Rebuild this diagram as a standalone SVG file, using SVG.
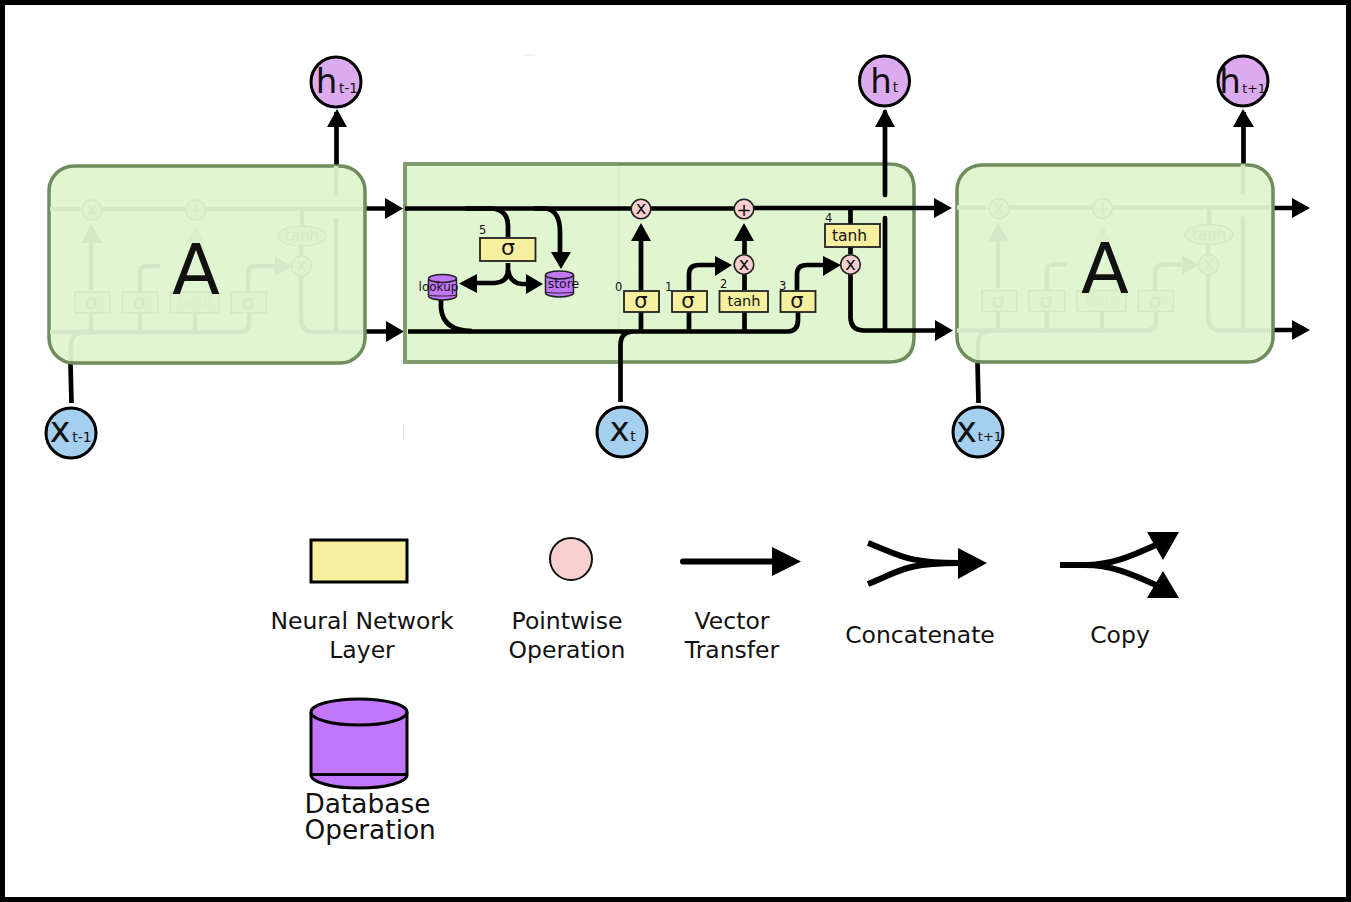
<svg xmlns="http://www.w3.org/2000/svg" width="1351" height="902" viewBox="0 0 1351 902">
<style>
text{font-family:"DejaVu Sans",sans-serif;fill:#111}
.box{fill:#e0f6d0;stroke:#6f8c5c;stroke-width:3.5}
.edge{fill:none;stroke:#7f9a6d;stroke-width:3.5}
.w{fill:none;stroke:#000;stroke-width:4.7}
.g{fill:none;stroke:#d3e8c6;stroke-width:4.5}
.gs{fill:#ddf3cd;stroke:#d3e8c6;stroke-width:1.5}
.gf{fill:#d3e8c6;stroke:none}
.gt{fill:#d4e9c8;text-anchor:middle}
.lay{fill:#f6ef9e;stroke:#222;stroke-width:1.8}
.op{fill:#f9cfcf;stroke:#222;stroke-width:1.6}
.db{fill:#c276fc;stroke:#222;stroke-width:1.5}
.h{fill:#dcaaee;stroke:#000;stroke-width:3}
.x{fill:#a5cfee;stroke:#000;stroke-width:3}
.c{text-anchor:middle}
.leg{font-size:23.500px;text-anchor:middle}
.num{font-size:11.500px}
</style>
<defs>
<g id="ghost">
<path class="g" d="M50 209H80M102 209H185M206 209H363M91 290V238M140 292V270Q140 266 148 266H160M301 245V256M301 276V318Q301 332 315 332H363M336 166V196M336 218V332M50 332H240Q249 332 249 322V313M248 292V274Q248 266 258 266H278M91 313V332M140 313V332M195 313V332M302 209V226"/>
<path class="gf" d="M81 243L91 224L102 243ZM275 257L292 266L275 276Z"/>
<path d="M186 243L195.500 226L205 243Z" fill="#daf0ca"/>
<circle class="gs" cx="92" cy="210" r="10"/><circle class="gs" cx="195.500" cy="210" r="10"/><circle class="gs" cx="301.500" cy="266" r="10"/>
<ellipse class="gs" cx="302" cy="236" rx="24" ry="10"/>
<rect class="gs" x="75" y="292" width="35" height="21"/><rect class="gs" x="122" y="292" width="36" height="21"/><rect class="gs" x="170" y="292" width="49" height="21"/><rect class="gs" x="231" y="292" width="35.500" height="21"/>
<text class="gt" x="92" y="215" font-size="17">x</text><text class="gt" x="195.500" y="216" font-size="17">+</text><text class="gt" x="301.500" y="271" font-size="17">x</text><text class="gt" x="302" y="241" font-size="15">tanh</text>
<text x="195" y="307" font-size="15" text-anchor="middle" style="fill:#d9efca">tanh</text>
<text class="gt" x="91" y="309" font-size="20">σ</text><text class="gt" x="139" y="309" font-size="20">σ</text><text class="gt" x="248" y="309" font-size="20">σ</text>
</g>
</defs>
<rect x="2.500" y="2.500" width="1346" height="897" fill="#fff" stroke="#000" stroke-width="5"/>
<path d="M403.500 424V438M523 55H535" stroke="#e6e6e6" stroke-width="1" fill="none"/>

<g id="connectors-outer">
<path class="w" d="M336.500 166V112M1243.500 166V112"/>
<path d="M327 127L337 109L347 127ZM1233 127L1243 109L1254 127Z"/>
<path class="w" d="M70.500 364L71.500 403M977.500 362L978.500 403"/>
<path class="w" d="M365 208.500H388M365 331.500H388M1273 208H1294M1273 330H1294"/>
<path d="M385 198L403 208.500L385 219ZM386 321L404 331.500L386 342ZM1292 198L1310 208L1292 218ZM1292 320L1310 330L1292 340Z"/>
</g>

<g id="cell-prev"><rect class="box" x="49" y="166" width="316" height="197" rx="25"/><use href="#ghost"/><path class="g" d="M71 361V345Q71 332 85 332H95"/><text x="196" y="294" font-size="70" class="c">A</text></g>
<g id="cell-next"><rect class="box" x="957" y="165" width="316" height="197" rx="25"/><use href="#ghost" x="907" y="-1.500"/><path class="g" d="M978 360V343Q978 330.500 992 330.500H1002"/><text x="1105" y="292.500" font-size="70" class="c">A</text></g>

<g id="cell-main">
<path class="box" d="M405 164H889Q914 164 914 189V337Q914 362 889 362H405Z"/>
<path class="edge" d="M619 164H405V362H619"/>
<path d="M619 166V360" stroke="#cfe8be" stroke-width="1" fill="none"/>
</g>

<g id="connectors">
<path class="w" d="M405 208.500H632M650 208.500H735M753 208H938M408 331.500H788Q798 331 798 320V312M620.500 402V345Q620.500 331.500 634 331.500M641 290V238M641 312V331M689 290V274Q689 265 699 265H718M689 312V331M744.500 290V274M744.500 254V238M744.500 312V331M797 290V274Q797 265 807 265H826M850.500 209V224M850.500 247V254M850.500 274V318Q851 330.500 864 330.500H938"/>
<path class="w" stroke-linecap="round" d="M885 195V112M885 218V330"/>
<path d="M875 127L885 109L895 127ZM631 241L641 223L651 241ZM734 241L744 223L754 241ZM715 256L732 265L715 276ZM823 256L841 265L823 276ZM934 198L952 208L934 218ZM935 320L953 330.500L935 341Z"/>
<path class="w" d="M465 208.500H490Q508 209 508 226V237M534 208.500H545Q560 210 560 232V255M508 263V270Q508 282 495 283H475M508 270Q510 283 522 284H530M441 300V308Q443 331 472 331"/>
<path d="M551 252L571 252L561 269ZM477 274L477 293L459 283.500ZM526 274L543 284L526 294Z"/>
</g>

<g id="layer-5"><rect class="lay" x="480" y="238" width="55.500" height="23"/><text x="508" y="255" font-size="22" class="c">σ</text><text class="num" x="479" y="234">5</text></g>
<g id="db-lookup"><path class="db" d="M428.500 279V296A14 4 0 0 0 456.500 296V279"/><ellipse class="db" cx="442.500" cy="278.500" rx="14" ry="4"/><path d="M428.500 295A14 1 0 0 0 456.500 295" stroke="#222" fill="none"/><text x="438.500" y="291" font-size="12" class="c">lookup</text></g>
<g id="db-store"><path class="db" d="M545.500 275V293A14 4 0 0 0 573.500 293V275"/><ellipse class="db" cx="559.500" cy="275" rx="14" ry="4"/><path d="M545.500 292A14 1 0 0 0 573.500 292" stroke="#222" fill="none"/><text x="563.500" y="288" font-size="12.500" class="c">store</text></g>
<g id="op-forget"><circle class="op" cx="641" cy="209" r="9.800"/><text x="641" y="214" font-size="18" class="c">x</text></g>
<g id="op-add"><circle class="op" cx="744" cy="209" r="9.800"/><text x="744" y="215.500" font-size="18" class="c">+</text></g>
<g id="op-gate"><circle class="op" cx="744" cy="264.500" r="9.800"/><text x="744" y="269.500" font-size="18" class="c">x</text></g>
<g id="op-out"><circle class="op" cx="850.500" cy="264.500" r="9.800"/><text x="850.500" y="269.500" font-size="18" class="c">x</text></g>
<g id="layer-0"><rect class="lay" x="624" y="291" width="35" height="21"/><text x="641" y="308" font-size="21" class="c">σ</text><text class="num" x="615" y="291">0</text></g>
<g id="layer-1"><rect class="lay" x="672" y="291" width="35" height="21"/><text x="688" y="308" font-size="21" class="c">σ</text><text class="num" x="665" y="291">1</text></g>
<g id="layer-2"><rect class="lay" x="719.500" y="291" width="48.500" height="21"/><text x="744" y="306" font-size="14.500" class="c">tanh</text><text class="num" x="720" y="288">2</text></g>
<g id="layer-3"><rect class="lay" x="780.500" y="291" width="35" height="21"/><text x="797" y="308" font-size="21" class="c">σ</text><text class="num" x="779" y="290">3</text></g>
<g id="layer-4"><rect class="lay" x="825" y="224" width="55" height="23"/><text x="849.500" y="241" font-size="15.500" class="c">tanh</text><text class="num" x="825" y="222">4</text></g>

<g id="h-prev"><circle class="h" cx="336" cy="82" r="25"/><text x="326.500" y="93" font-size="34" class="c">h</text><text x="348.500" y="92.500" font-size="13.500" class="c">t-1</text></g>
<g id="h-cur"><circle class="h" cx="884.500" cy="81" r="25"/><text x="881" y="92.500" font-size="34" class="c">h</text><text x="895.500" y="92" font-size="13.500" class="c">t</text></g>
<g id="h-next"><circle class="h" cx="1243" cy="81" r="25"/><text x="1230" y="93" font-size="34" class="c">h</text><text x="1254" y="93" font-size="12.500" class="c">t+1</text></g>
<g id="x-prev"><circle class="x" cx="71" cy="433" r="25"/><text x="60" y="442" font-size="35" class="c">x</text><text x="82" y="441.500" font-size="14" class="c">t-1</text></g>
<g id="x-cur"><circle class="x" cx="622" cy="432" r="25"/><text x="619.500" y="441" font-size="34" class="c">x</text><text x="633" y="440.500" font-size="14" class="c">t</text></g>
<g id="x-next"><circle class="x" cx="978" cy="432" r="25"/><text x="966.500" y="441.500" font-size="35" class="c">x</text><text x="990" y="441" font-size="13" class="c">t+1</text></g>

<g id="legend-layer"><rect x="311" y="540" width="96" height="42" fill="#f6ef9e" stroke="#000" stroke-width="3"/><text class="leg" x="362" y="629">Neural Network</text><text class="leg" x="362" y="658">Layer</text></g>
<g id="legend-op"><circle cx="571" cy="559" r="21" fill="#f9cfcf" stroke="#111" stroke-width="2"/><text class="leg" x="567" y="629">Pointwise</text><text class="leg" x="567" y="658">Operation</text></g>
<g id="legend-vector"><path d="M683 561.500H775" stroke="#000" stroke-width="6" stroke-linecap="round" fill="none"/><path d="M772 547L801 561.500L772 576Z"/><text class="leg" x="732" y="629">Vector</text><text class="leg" x="732" y="658">Transfer</text></g>
<g id="legend-concat"><path d="M868 543C900 555 905 563 960 563M868 584C900 571 905 563 960 563" stroke="#000" stroke-width="6" fill="none"/><path d="M958 548L987 563L958 579Z"/><text class="leg" x="920" y="643">Concatenate</text></g>
<g id="legend-copy"><path d="M1060 565H1085C1110 565 1130 557 1158 544M1085 565C1110 565 1130 573 1158 586" stroke="#000" stroke-width="6" fill="none"/><path d="M1147 532L1179 532L1163 560ZM1147 598L1179 598L1163 571Z"/><text class="leg" x="1120" y="643">Copy</text></g>
<g id="legend-db"><path d="M311 712V775A48 13 0 0 0 407 775V712" fill="#c276fc" stroke="#000" stroke-width="3"/><ellipse cx="359" cy="712" rx="48" ry="13" fill="#c276fc" stroke="#000" stroke-width="3"/><path d="M311 774.500H407" stroke="#000" stroke-width="3"/><text x="304.500" y="813" font-size="26.400">Database</text><text x="304.500" y="839" font-size="26.400">Operation</text></g>
</svg>
